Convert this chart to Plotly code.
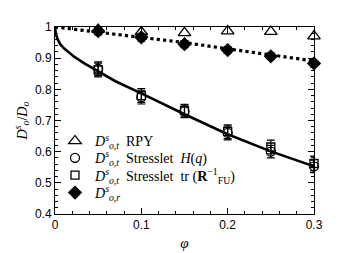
import plotly.graph_objects as go

phi = [0.05, 0.10, 0.15, 0.20, 0.25, 0.30]
rpy = [0.992, 0.984, 0.981, 0.987, 0.985, 0.971]
circ = [0.866, 0.775, 0.729, 0.660, 0.600, 0.553]
circ_err = [0.022, 0.022, 0.020, 0.022, 0.020, 0.020]
sq = [0.862, 0.780, 0.732, 0.664, 0.615, 0.562]
sq_err = [0.022, 0.022, 0.020, 0.022, 0.022, 0.024]
rot = [0.987, 0.967, 0.945, 0.926, 0.906, 0.883]
rot_err = [0.012, 0.012, 0.011, 0.010, 0.010, 0.011]

curve_phi = [0, 0.001, 0.003, 0.006, 0.011, 0.0225, 0.034, 0.05, 0.07, 0.10, 0.15, 0.20, 0.25, 0.30]
curve_solid = [1.0, 0.978, 0.961, 0.945, 0.930, 0.904, 0.883, 0.858, 0.826, 0.787, 0.720, 0.656, 0.601, 0.553]
dot_phi = [0, 0.05, 0.10, 0.15, 0.20, 0.25, 0.30]
dot_line = [1.0, 0.984, 0.967, 0.950, 0.930, 0.911, 0.891]

serif = "Liberation Serif"
D = "<i>D</i><sup><i>s</i></sup><sub><i>o,t</i></sub>"
Dr = "<i>D</i><sup><i>s</i></sup><sub><i>o,r</i></sub>"

fig = go.Figure()
fig.add_trace(go.Scatter(x=curve_phi, y=curve_solid, mode="lines", line=dict(color="black", width=2.6),
                         showlegend=False, cliponaxis=False))
fig.add_trace(go.Scatter(x=dot_phi, y=dot_line, mode="lines", line=dict(color="black", width=3.2, dash="dot"),
                         showlegend=False, cliponaxis=False))
fig.add_trace(go.Scatter(x=phi, y=rpy, mode="markers", name=D + "  RPY", legend="legend",
                         marker=dict(symbol="triangle-up-open", size=11, color="black", line=dict(width=1.3)),
                         cliponaxis=False))
fig.add_trace(go.Scatter(x=phi, y=circ, mode="markers", name=D + "  Stresslet  <i>H</i>(<i>q</i>)",
                         legend="legend2",
                         marker=dict(symbol="circle-open", size=9, color="black", line=dict(width=1.3)),
                         error_y=dict(type="data", array=circ_err, color="black", thickness=1.2, width=4),
                         cliponaxis=False))
fig.add_trace(go.Scatter(x=phi, y=sq, mode="markers",
                         name=D + "  Stresslet  tr (<b>R</b><sup>−1</sup><sub>FU</sub>)",
                         legend="legend3",
                         marker=dict(symbol="square-open", size=8, color="black", line=dict(width=1.3)),
                         error_y=dict(type="data", array=sq_err, color="black", thickness=1.2, width=4),
                         cliponaxis=False))
fig.add_trace(go.Scatter(x=phi, y=rot, mode="markers", name=Dr, legend="legend4",
                         marker=dict(symbol="diamond", size=11, color="black"),
                         error_y=dict(type="data", array=rot_err, color="black", thickness=1.2, width=4),
                         cliponaxis=False))

axis_common = dict(
    showgrid=False, zeroline=False, showline=True, linecolor="black", linewidth=1,
    mirror="allticks", ticks="inside", ticklen=6, tickwidth=1, tickcolor="black",
    tickfont=dict(family="Liberation Sans", size=12, color="black"),
)
fig.update_xaxes(range=[0, 0.3], dtick=0.1, tick0=0,
                 minor=dict(dtick=0.02, ticks="inside", ticklen=3, tickcolor="black"),
                 title=dict(text="<i>φ</i>", font=dict(family=serif, size=15, color="black"), standoff=6),
                 **axis_common)
fig.update_yaxes(range=[0.4, 1.0], dtick=0.1, tick0=0.4,
                 minor=dict(dtick=0.02, ticks="inside", ticklen=3, tickcolor="black"),
                 title=dict(text="<i>D</i><sup><i>s</i></sup><sub><i>o</i></sub>/<i>D</i><sub><i>o</i></sub>",
                            font=dict(family=serif, size=14, color="black"), standoff=4),
                 **axis_common)

def leg(y):
    return dict(x=0.0, y=y, xanchor="left", yanchor="top", bgcolor="rgba(0,0,0,0)",
                font=dict(family=serif, size=14, color="black"), itemwidth=30)

fig.update_layout(
    width=338, height=253,
    margin=dict(l=47, r=32, t=19, b=40),
    paper_bgcolor="white", plot_bgcolor="white",
    legend=leg(0.474), legend2=leg(0.384), legend3=leg(0.291), legend4=leg(0.198),
)
fig.write_html("out.html")
